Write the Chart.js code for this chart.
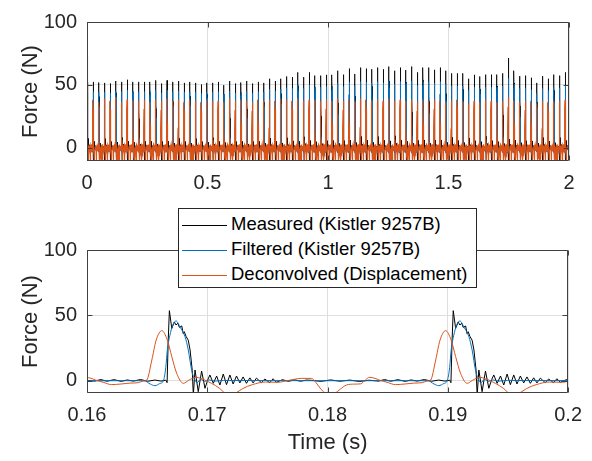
<!DOCTYPE html>
<html>
<head>
<meta charset="utf-8">
<script src="https://cdn.jsdelivr.net/npm/chart.js@4.4.1/dist/chart.umd.min.js"></script>
<style>
  body { margin: 0; background: #fff; }
  #figure { position: relative; width: 592px; height: 461px; font-family: "Liberation Sans", Arial, sans-serif; }
  #figure canvas { position: absolute; left: 0; }
  #legend { position: absolute; left: 178px; top: 208px; width: 299px; height: 80px; border: 1px solid #262626;
            background: #fff; box-sizing: border-box; font-size: 18.5px; color: #000; }
  .row { position: absolute; left: 0; height: 22px; line-height: 22px; white-space: nowrap; }
  .swatch { display: inline-block; width: 45px; height: 0; border-top: 1px solid; vertical-align: middle; margin: 0 4px 0 3px; }
</style>
</head>
<body>
<div id="figure">
  <canvas id="overview" width="592" height="200" style="top:0"></canvas>
  <canvas id="zoomed" width="592" height="261" style="top:200px"></canvas>
  <div id="legend"></div>
</div>
<script>
// labels
const seriesNames = ['Measured (Kistler 9257B)', 'Filtered (Kistler 9257B)', 'Deconvolved (Displacement)'];
const seriesColors = ['#000000', '#0072bd', '#d95319'];

// tick labels
const forceTicks = [0, 50, 100];
const overviewTimeTicks = [0, 0.5, 1, 1.5, 2];
const zoomTimeTicks = [0.16, 0.17, 0.18, 0.19, 0.2];

// one period of each trace around a hit
// (offset in ms from the measured peak, force in N)
const measuredShapeMs = [-11.8, -11.0, -10.2, -9.4, -8.6, -7.8, -7.0, -6.2, -5.7, -5.2, -4.6, -4.0, -3.5, -3.0, -2.4, -1.8, -1.2, -0.7, -0.3, -0.19, -0.1,
  0, 0.2, 0.41, 0.55, 0.7, 0.83, 1.03, 1.15, 1.24, 1.38, 1.57, 1.72, 1.9, 1.99, 2.13, 2.4, 2.68, 2.96, 3.2, 3.37, 3.65, 3.93, 4.2, 4.48,
  4.75, 5.03, 5.3, 5.58, 5.86, 6.13, 6.41, 6.69, 6.96, 7.24, 7.65, 7.93, 8.34, 8.62, 8.9, 9.4, 9.9, 10.4, 10.9, 11.4, 11.8];
const measuredShapeN = [0.3, -0.5, 0.6, -0.4, 0.5, -0.6, 0.4, -0.3, 0.9, -0.4, 0.8, -0.5, 0.6, -0.3, 0.9, -0.4, 0.5, -0.3, 0.4, -1.5, 30,
  53.6, 40, 45, 42.6, 44, 40.8, 41.9, 36, 37.5, 34, 31, 23.5, 8, -11, 8.2, -8.4, 7.4, -5.8, 1, 4.4, -2, 3.6, -3.3, 5.1,
  -3, 4.4, -2.5, 3.6, -1.7, 2.9, -2, 2.2, -1.7, 2, -1.5, 1.3, -1.5, 1.5, -1.2, 0.8, -0.5, 0.7, -0.4, 0.5, 0.3];

const filteredShapeMs = [-11.8, -2.1, -1.6, -1.2, -0.8, -0.5, -0.3, -0.17, 0.1, 0.3, 0.56, 0.89, 1.3, 1.57, 1.86, 2.13, 2.3, 2.6, 2.9, 3.3, 3.8, 4.5, 11.8];
const filteredShapeN = [0, 0, -2.5, -3.8, -2.2, 0, 10, 23.5, 37, 43, 45.7, 41, 33.7, 23.5, 7.6, 0.5, -1.5, 1, -0.6, 0.6, -0.3, 0.2, 0];

const deconvShapeMs = [-11.8, -11.4, -11.0, -10.55, -10.2, -9.8, -9.4, -8.88, -8.2, -7.7, -7.3, -6.97, -6.5, -6.14, -5.5, -4.8, -4.0, -3.2, -2.58, -2.2,
  -1.88, -1.46, -1.1, -0.63, -0.17, 0.2, 0.61, 1.16, 1.6, 2.2, 2.7, 3.5, 4.2, 4.6, 5.0, 5.5, 6.1, 6.9, 8.0, 9.0, 10.0, 11.0, 11.8];
const deconvShapeN = [1.8, -1.5, -6.5, -10, -11, -9.5, -6.5, -3.3, -2.6, -2.4, 0.5, 2.6, 1.8, 0.5, -1.2, -3, -2.5, -1.8, -1.5, -0.3,
  0.5, 15.8, 31, 38.3, 31, 18.4, 5.6, -2, 0.3, 2.6, 1.5, -2, -6, -9.5, -11, -9.5, -6, -3, -1, -1.2, 0.4, 1.8, 1.8];

// hits shown in the lower plot (time of measured peak, s)
const zoomHitTimes = [0.16685, 0.19045];

// upper plot: every hit over 2 s, peak force per hit (N)
const hitStart = 0.00165;
const hitPeriod = 0.0236;
const measuredPeaks = [52, 52.3, 51.8, 51.5, 51.0, 53, 52.3, 54.0, 52.3, 52.3, 52.3,
  52.3, 53.5, 51.0, 53.5, 52.3, 53.0, 51.5, 52.3, 51.5, 50.2,
  51.5, 51.5, 52.3, 49.7, 53.0, 51.0, 51.8, 53.0, 51.0, 52.3,
  51.5, 54.8, 53.0, 54.8, 56.6, 56.1, 59.9, 56.1, 59.9, 57.3,
  57.3, 57.9, 57.9, 61.2, 58.1, 62.9, 58.6, 63.7, 62.9, 62.4,
  63.7, 62.4, 64.5, 61.2, 63.7, 61.7, 64.5, 59.9, 63.7, 63.7,
  61.9, 63.7, 61.2, 59.1, 59.1, 59.1, 54.8, 57.9, 56.6, 58.1,
  58.1, 58.1, 59.1, 71.3, 61.2, 56.9, 57.3, 55.6, 51.5, 56.9,
  54.8, 58.1, 57.3, 59.9];
const filteredPeaks = [44, 44.5, 44, 44, 43.5, 45, 44.5, 45.7, 44.5, 44.5, 44.5,
  44.5, 45.5, 43.5, 45.5, 44.5, 45, 44, 44.5, 44, 43,
  44, 44, 44.5, 42.5, 45, 43.5, 44, 45, 43.5, 44.5,
  44, 46.5, 45, 46.5, 47.5, 47, 50, 47, 50, 48,
  48, 48.5, 48.5, 51, 48.5, 52, 49, 52.5, 52, 51.5,
  52.5, 51.5, 53, 50.5, 52.5, 51, 53, 49.5, 52.5, 52.5,
  51, 52.5, 50.5, 49, 49, 49, 45.5, 48, 47, 48,
  48, 48, 49, 55, 50.5, 47, 47.5, 46, 43, 47,
  45.5, 48, 47.5, 49.5];
const deconvPeaks = [37, 38, 36, 39, 37, 40, 36, 38.3, 37.5, 37, 38,
  36, 38, 37, 39, 37, 38, 36, 38, 37, 36,
  38, 37, 37, 36, 39, 37, 38, 37, 36, 38,
  37, 38, 37, 39, 38, 37, 39, 37, 38, 38,
  37, 38, 37, 39, 37, 38, 37, 39, 38, 37,
  38, 37, 39, 37, 38, 37, 38, 36, 38, 37,
  38, 37, 36, 37, 38, 37, 35, 37, 36, 38,
  37, 36, 37, 40, 37, 36, 37, 36, 35, 37,
  36, 37, 37, 38];
const deconvStartForce = 74;   // start-up transient at t = 0

// ---------------------------------------------------------------

function buildTrace(hitTimes, peaks, shapeMs, shapeN) {
  const shapePeak = Math.max(...shapeN);
  const points = [];
  hitTimes.forEach((t, k) => {
    const scale = peaks ? peaks[k] / shapePeak : 1;
    for (let i = 0; i < shapeMs.length; i++) {
      points.push({ x: t + shapeMs[i] / 1000, y: shapeN[i] * scale });
    }
  });
  return points;
}

const overviewHitTimes = measuredPeaks.map((_, k) => hitStart + k * hitPeriod);

const overviewDeconv = [{ x: 0, y: deconvStartForce }].concat(
  buildTrace(overviewHitTimes, deconvPeaks, deconvShapeMs, deconvShapeN).filter(p => p.x > 0));

const overviewData = [
  buildTrace(overviewHitTimes, measuredPeaks, measuredShapeMs, measuredShapeN),
  buildTrace(overviewHitTimes, filteredPeaks, filteredShapeMs, filteredShapeN),
  overviewDeconv
];
const zoomData = [
  buildTrace(zoomHitTimes, null, measuredShapeMs, measuredShapeN),
  buildTrace(zoomHitTimes, null, filteredShapeMs, filteredShapeN),
  buildTrace(zoomHitTimes, null, deconvShapeMs, deconvShapeN)
];

// matlab style box with inward tick marks
const axesBox = {
  id: 'axesBox',
  afterDatasetsDraw(chart) {
    const { ctx, chartArea: a, scales } = chart;
    const l = Math.round(a.left) + 0.5, r = Math.round(a.right) - 0.5;
    const t = Math.round(a.top) + 0.5, b = Math.round(a.bottom) - 0.5;
    ctx.save();
    ctx.strokeStyle = '#404040';
    ctx.lineWidth = 1;
    ctx.beginPath();
    ctx.rect(l, t, r - l, b - t);
    scales.x.ticks.forEach(tk => {
      const px = Math.round(scales.x.getPixelForValue(tk.value)) + 0.5;
      ctx.moveTo(px, b); ctx.lineTo(px, b - 5);
      ctx.moveTo(px, t); ctx.lineTo(px, t + 5);
    });
    scales.y.ticks.forEach(tk => {
      const py = Math.round(scales.y.getPixelForValue(tk.value)) + 0.5;
      ctx.moveTo(l, py); ctx.lineTo(l + 5, py);
      ctx.moveTo(r, py); ctx.lineTo(r - 5, py);
    });
    ctx.stroke();
    ctx.restore();
  }
};

const tickFont = { family: '"Liberation Sans", Arial, sans-serif', size: 20 };
const titleFont = { family: '"Liberation Sans", Arial, sans-serif', size: 22 };

function makeChart(canvasId, data, xMin, xMax, xTicks, yMin, xHeight, topPad, lineWidths, smooth, showXTitle) {
  return new Chart(document.getElementById(canvasId), {
    type: 'line',
    data: {
      datasets: data.map((pts, i) => ({
        label: seriesNames[i],
        data: pts,
        borderColor: seriesColors[i],
        borderWidth: lineWidths[i],
        pointRadius: 0,
        tension: smooth[i] ? 0.4 : 0,
        cubicInterpolationMode: smooth[i] ? 'monotone' : 'default',
        fill: false,
        clip: 0,
        order: 2 - i
      }))
    },
    options: {
      responsive: false,
      animation: false,
      parsing: false,
      normalized: true,
      devicePixelRatio: 1,
      events: [],
      layout: { padding: { top: topPad, right: 23, bottom: 0, left: 0 } },
      plugins: { legend: { display: false }, tooltip: { enabled: false } },
      scales: {
        x: {
          type: 'linear',
          min: xMin,
          max: xMax,
          afterBuildTicks: s => { s.ticks = xTicks.map(v => ({ value: v })); },
          afterFit: s => { s.height = xHeight; },
          ticks: { font: tickFont, color: '#262626', padding: 10, maxRotation: 0, autoSkip: false,
                   callback: v => String(v) },
          grid: { color: '#dfdfdf', drawTicks: false },
          border: { display: false },
          title: { display: showXTitle, text: 'Time (s)', font: titleFont, color: '#262626',
                   padding: { top: 0, bottom: 5 } }
        },
        y: {
          min: yMin,
          max: 100,
          afterBuildTicks: s => { s.ticks = forceTicks.map(v => ({ value: v })); },
          afterFit: s => { s.width = 87; },
          ticks: { font: tickFont, color: '#262626', padding: 10, callback: v => String(v) },
          grid: { color: '#dfdfdf', drawTicks: false },
          border: { display: false },
          title: { display: true, text: 'Force (N)', font: titleFont, color: '#262626',
                   padding: { top: 18, bottom: 0 } }
        }
      }
    },
    plugins: [axesBox]
  });
}

makeChart('overview', overviewData, 0, 2, overviewTimeTicks, -10.7, 39, 16, [0.8, 0.9, 1.2], [false, false, false], false);
makeChart('zoomed', zoomData, 0.16, 0.2, zoomTimeTicks, -9.4, 68, 50, [1, 1, 1], [false, true, true], true);

// legend box inside the lower axes
const legend = document.getElementById('legend');
const rowCenters = [15, 40.3, 65.3];
seriesNames.forEach((name, i) => {
  const row = document.createElement('div');
  row.className = 'row';
  row.style.top = (rowCenters[i] - 11) + 'px';
  const swatch = document.createElement('span');
  swatch.className = 'swatch';
  swatch.style.borderTopColor = seriesColors[i];
  row.appendChild(swatch);
  row.appendChild(document.createTextNode(name));
  legend.appendChild(row);
});
</script>
</body>
</html>
